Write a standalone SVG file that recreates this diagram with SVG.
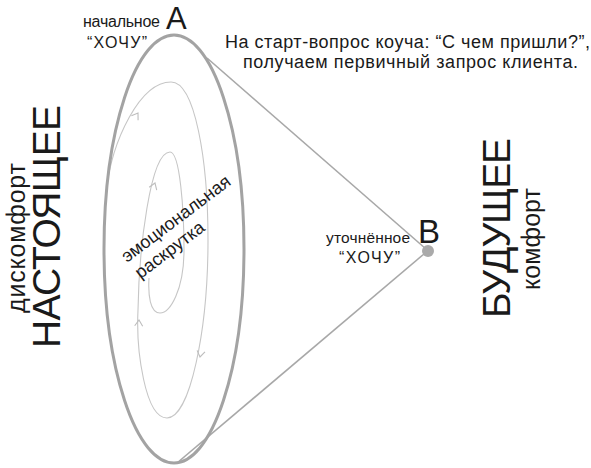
<svg xmlns="http://www.w3.org/2000/svg" width="591" height="468" viewBox="0 0 591 468">
<style>
text{font-family:"Liberation Sans",Arial,sans-serif;fill:#1a1a1a}
.big{font-size:39px}
.sub{font-size:25px}
.lbl{font-size:16px}
.note{font-size:18px}
.letter{font-size:33px}
.outer{fill:none;stroke:#a3a3a3;stroke-width:3}
.edge{fill:none;stroke:#a8a8a8;stroke-width:1.6}
.spiral{fill:none;stroke:#c6c6c6;stroke-width:1.1}
.chev{fill:none;stroke:#bdbdbd;stroke-width:1.1}
</style>
<rect width="591" height="468" fill="#ffffff"/>
<g id="connectors">
<line class="edge" x1="207" y1="58" x2="426" y2="249"/>
<line class="edge" x1="424" y1="254" x2="177" y2="463"/>
<path class="spiral" d="M106,192 C112,140 140,82 171,82 C195,82 208,160 208,240 C208,330 190,418 167,418 C145,418 136,350 138,310 C139,250 150,152 170,152 C180,152 184,210 184,250 C184,290 170,313 160,313 C150,313 148,295 149,278"/>
<path class="chev" d="M-4,6 L0,0 L4,6" transform="translate(138,113) rotate(33)"/>
<path class="chev" d="M-4,6 L0,0 L4,6" transform="translate(155,183) rotate(20)"/>
<path class="chev" d="M-4,6 L0,0 L4,6" transform="translate(139,320) rotate(3)"/>
<path class="chev" d="M-4,6 L0,0 L4,6" transform="translate(200,357) rotate(190)"/>
</g>
<g id="present-ellipse">
<ellipse class="outer" cx="174" cy="249" rx="70" ry="214"/>
</g>
<g id="point-a">
<text class="letter" x="166" y="29" style="font-size:31px">A</text>
<text class="lbl" x="83" y="27" textLength="77">начальное</text>
<text class="lbl" x="87" y="48" textLength="60">“ХОЧУ”</text>
</g>
<g id="point-b">
<circle cx="428" cy="251" r="6" fill="#aaaaaa"/>
<text class="letter" x="418" y="243">B</text>
<text class="lbl" x="326" y="243" textLength="84" style="font-size:15.5px">уточнённое</text>
<text class="lbl" x="339" y="263" textLength="61">“ХОЧУ”</text>
</g>
<g id="note">
<text class="note" x="225" y="48" textLength="365">На старт-вопрос коуча: “С чем пришли?”,</text>
<text class="note" x="243" y="68" textLength="335">получаем первичный запрос клиента.</text>
</g>
<g id="present">
<text class="big" transform="translate(60,348) rotate(-90)" textLength="243">НАСТОЯЩЕЕ</text>
<text class="sub" transform="translate(25,313) rotate(-90)" textLength="150">дискомфорт</text>
</g>
<g id="future">
<text class="big" transform="translate(510,318) rotate(-90)" textLength="180">БУДУЩЕЕ</text>
<text class="sub" transform="translate(540,290) rotate(-90)" textLength="102">комфорт</text>
</g>
<g id="spin-label">
<text style="font-size:18px" transform="translate(127,263) rotate(-37)"><tspan x="0" y="0">эмоциональная</tspan><tspan x="1" y="21">раскрутка</tspan></text>
</g>
</svg>
